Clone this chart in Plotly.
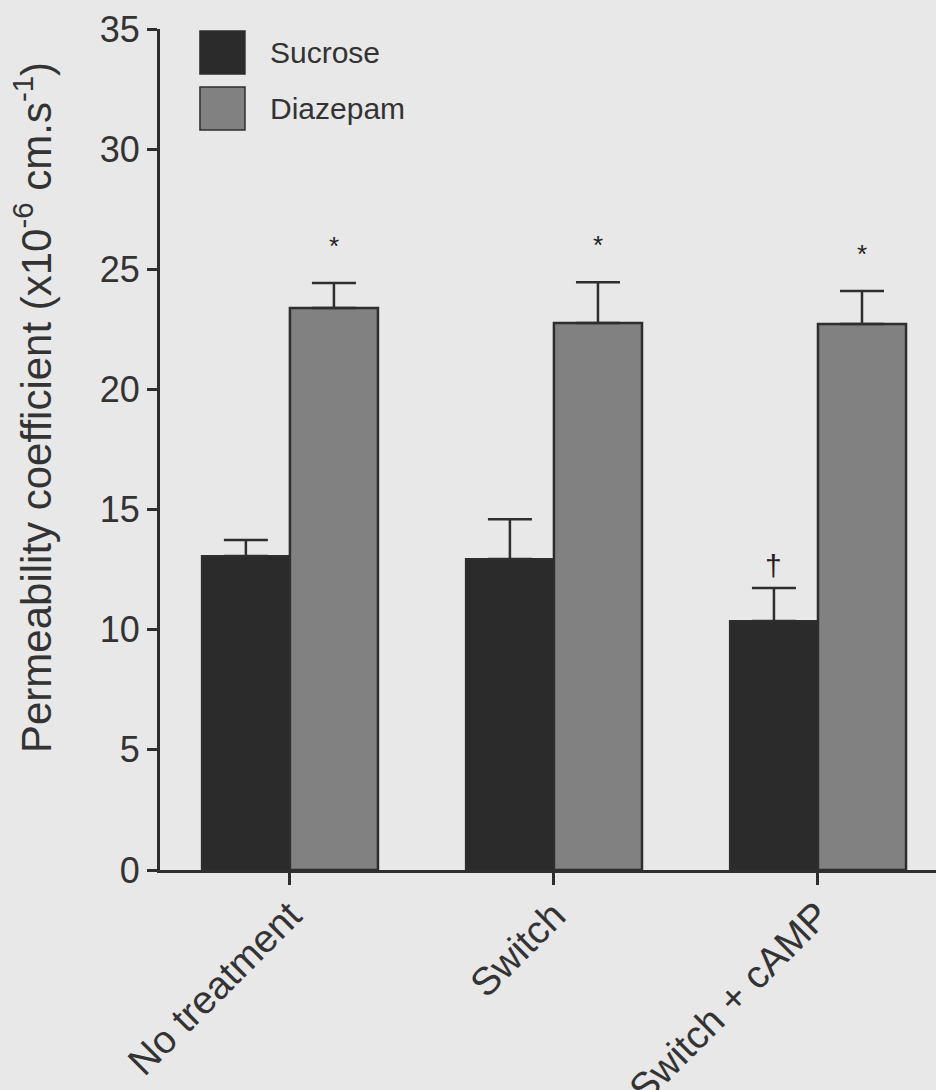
import plotly.graph_objects as go

categories = ["No treatment", "Switch", "Switch + cAMP"]
sucrose = [13.07, 12.94, 10.36]
sucrose_err = [0.66, 1.66, 1.38]
diazepam = [23.39, 22.76, 22.72]
diazepam_err = [1.04, 1.70, 1.38]
sucrose_marks = ["", "", "†"]
diazepam_marks = ["*", "*", "*"]
y_ticks = [0, 5, 10, 15, 20, 25, 30, 35]

BG = "#e8e8e8"
DARK = "#2b2b2b"
GREY = "#818181"
LINE = "#2e2e2e"
FONT = "Liberation Sans, Arial, sans-serif"

fig = go.Figure()
fig.add_trace(go.Bar(
    x=categories, y=sucrose, name="Sucrose",
    marker=dict(color=DARK, line=dict(color=LINE, width=2)),
    error_y=dict(type="data", array=sucrose_err, symmetric=False,
                 arrayminus=[0, 0, 0], color=LINE, thickness=2.5, width=22),
    offsetgroup="s",
))
fig.add_trace(go.Bar(
    x=categories, y=diazepam, name="Diazepam",
    marker=dict(color=GREY, line=dict(color=LINE, width=2.5)),
    error_y=dict(type="data", array=diazepam_err, symmetric=False,
                 arrayminus=[0, 0, 0], color=LINE, thickness=2.5, width=22),
    offsetgroup="d",
))

annotations = []
for i, c in enumerate(categories):
    if diazepam_marks[i]:
        annotations.append(dict(
            x=i, xshift=44, y=diazepam[i] + diazepam_err[i], yref="y", xref="x",
            text=diazepam_marks[i], showarrow=False, yanchor="bottom",
            yshift=20, font=dict(size=26, color="#222", family=FONT)))
    if sucrose_marks[i]:
        annotations.append(dict(
            x=i, xshift=-44, y=sucrose[i] + sucrose_err[i], yref="y", xref="x",
            text=sucrose_marks[i], showarrow=False, yanchor="bottom",
            yshift=4, font=dict(size=30, color="#222", family=FONT)))

# legend drawn manually (large swatches)
legend_items = [("Sucrose", DARK), ("Diazepam", GREY)]
shapes = []
for k, (name, col) in enumerate(legend_items):
    top = 0.9976 - k * 0.0667
    shapes.append(dict(type="rect", xref="paper", yref="paper",
                       x0=0.0515, x1=0.1095, y0=top - 0.051, y1=top,
                       fillcolor=col, line=dict(color=LINE, width=1.5)))
    annotations.append(dict(xref="paper", yref="paper", x=0.139, y=top - 0.0255,
                            text=name, showarrow=False, xanchor="left",
                            yanchor="middle",
                            font=dict(size=30, color="#333", family=FONT)))

# y-axis title as rotated annotation
annotations.append(dict(
    xref="paper", yref="paper", x=(33 - 160) / 776, y=(870 - 408) / 841,
    xanchor="center", yanchor="middle", textangle=-90, showarrow=False,
    text="Permeability coefficient (x10<sup>-6</sup> cm.s<sup>-1</sup>)",
    font=dict(size=42, color="#333", family=FONT)))

fig.update_layout(
    width=936, height=1090,
    margin=dict(l=160, r=0, t=29, b=220, pad=0, autoexpand=False),
    paper_bgcolor=BG, plot_bgcolor=BG,
    barmode="group", bargap=0.333, bargroupgap=0,
    showlegend=False,
    font=dict(family=FONT, color="#333"),
    annotations=annotations, shapes=shapes,
)
fig.update_xaxes(
    range=[-0.492, 2.447], showline=True, linecolor=LINE, linewidth=3,
    ticks="outside", ticklen=12, tickwidth=3, tickcolor=LINE,
    tickangle=-45, tickfont=dict(size=39, color="#333", family=FONT),
    ticklabelstandoff=-8,
    showgrid=False, zeroline=False, automargin=False,
)
fig.update_yaxes(
    range=[0, 35], tickvals=y_ticks, showline=True, linecolor=LINE, linewidth=3,
    ticks="outside", ticklen=10, tickwidth=3, tickcolor=LINE,
    tickfont=dict(size=36, color="#333", family=FONT),
    showgrid=False, zeroline=False, automargin=False,
)

fig.write_html("out.html", config={"displayModeBar": False},
               post_script="document.body.style.margin='0px';")
